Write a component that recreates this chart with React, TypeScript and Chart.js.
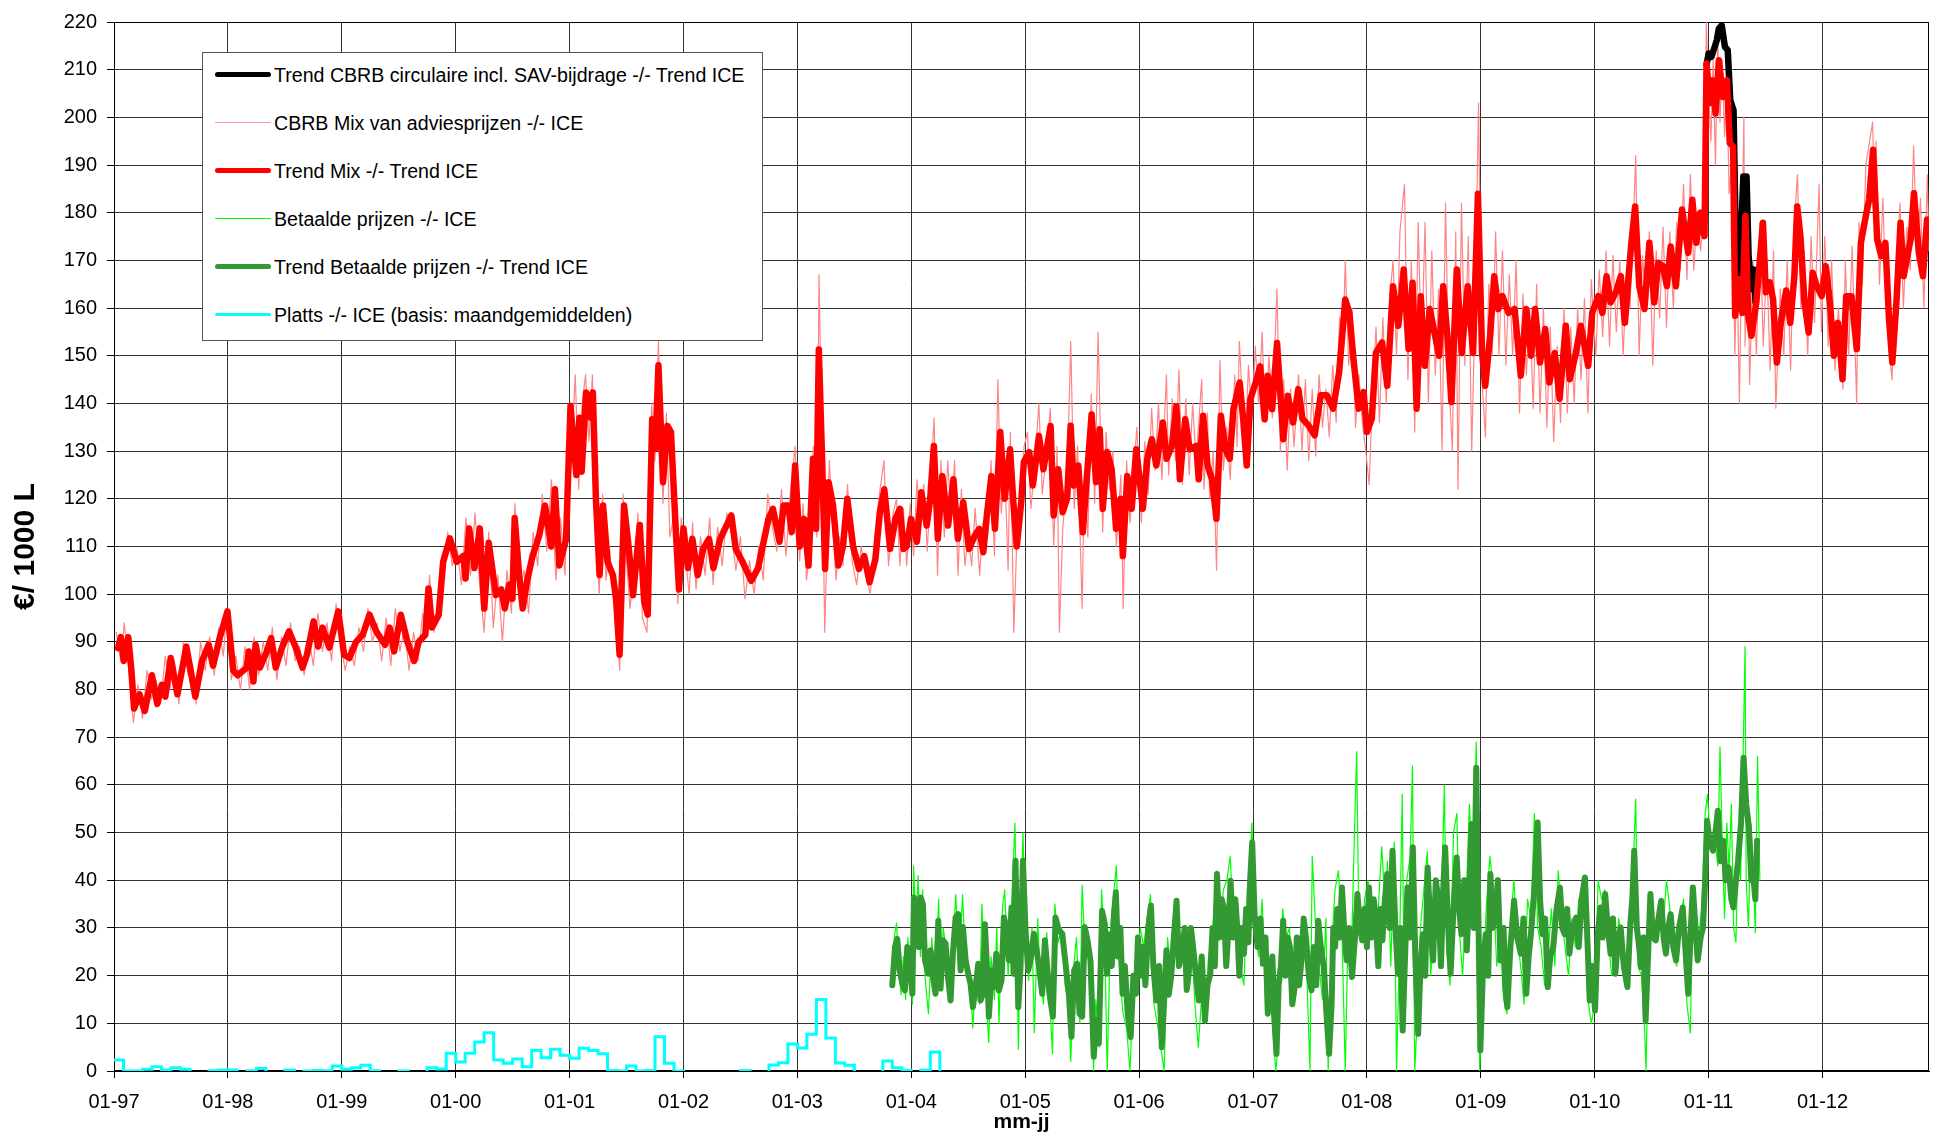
import React, { useEffect, useRef } from "react";
import { Chart, registerables } from "chart.js";

Chart.register(...registerables);

const FONT = "'Liberation Sans', Arial, Helvetica, sans-serif";

// ---------- axis data ----------
const yearTicks = [1997, 1998, 1999, 2000, 2001, 2002, 2003, 2004, 2005, 2006, 2007, 2008, 2009, 2010, 2011, 2012];
const yearTickLabels = ["01-97", "01-98", "01-99", "01-00", "01-01", "01-02", "01-03", "01-04", "01-05", "01-06", "01-07", "01-08", "01-09", "01-10", "01-11", "01-12"];
const xMin = 1997;
const xMax = 2012.935;
const yMin = 0;
const yMax = 220;
const yStep = 10;

// ---------- series (x = date as decimal year, y = EUR / 1000 L) ----------
const trendCbrbCirc: [number, number][] = [
  [2010.982, 211], [2011.0, 213.4], [2011.025, 212.7], [2011.054, 214.8], [2011.072, 216.2], [2011.09, 218.6],
  [2011.115, 219.3], [2011.143, 214.8], [2011.168, 214.1], [2011.19, 203.6], [2011.219, 201.5], [2011.24, 172.3],
  [2011.269, 166], [2011.305, 187.6], [2011.333, 187.6], [2011.351, 170.9], [2011.376, 164], [2011.394, 168.1], [2011.412, 161.2],
];

const trendMix: [number, number][] = [
  [1997.035, 88.7], [1997.06, 91], [1997.086, 86], [1997.125, 91], [1997.153, 84], [1997.176, 76], [1997.224, 79], [1997.27, 75.5],
  [1997.333, 83], [1997.38, 77], [1997.42, 81], [1997.45, 78.5], [1997.498, 86.6], [1997.557, 79], [1997.596, 84], [1997.635, 89],
  [1997.714, 78.5], [1997.773, 86], [1997.831, 89.4], [1997.87, 85], [1997.93, 91], [1997.996, 96.4], [1998.047, 84], [1998.086, 83],
  [1998.165, 84.6], [1998.184, 88], [1998.224, 81.7], [1998.243, 89.4], [1998.282, 84.6], [1998.341, 88], [1998.38, 90.8], [1998.42, 84.6],
  [1998.478, 89], [1998.537, 92.2], [1998.596, 88.8], [1998.655, 84.6], [1998.694, 87.3], [1998.753, 94.3], [1998.792, 89], [1998.831, 93],
  [1998.89, 88.8], [1998.969, 96.4], [1999.02, 87.3], [1999.067, 86.6], [1999.125, 90], [1999.184, 91.5], [1999.243, 95.7], [1999.302, 92.2],
  [1999.38, 89.4], [1999.42, 93], [1999.459, 88], [1999.518, 95.7], [1999.576, 90], [1999.635, 86], [1999.675, 90], [1999.733, 91.5],
  [1999.761, 101.2], [1999.792, 93], [1999.851, 95.7], [1999.89, 106.8], [1999.949, 111.7], [2000.008, 106.8], [2000.067, 108], [2000.086, 103.3],
  [2000.118, 113.8], [2000.165, 105.5], [2000.212, 113.8], [2000.251, 97], [2000.29, 110.8], [2000.353, 99.8], [2000.4, 101], [2000.431, 97],
  [2000.47, 102], [2000.498, 99], [2000.518, 116], [2000.557, 104], [2000.588, 97], [2000.627, 102.8], [2000.675, 108], [2000.733, 112.3],
  [2000.784, 118.6], [2000.839, 110], [2000.871, 122], [2000.91, 106], [2000.969, 111.6], [2001.008, 139.5], [2001.059, 125], [2001.086, 137],
  [2001.106, 125.7], [2001.145, 142.3], [2001.184, 137], [2001.204, 142.3], [2001.231, 120], [2001.263, 104], [2001.294, 118.6], [2001.333, 106.8],
  [2001.38, 104], [2001.408, 99], [2001.439, 87.3], [2001.478, 118.6], [2001.518, 110], [2001.557, 99.8], [2001.616, 114.5], [2001.655, 98.5],
  [2001.686, 95.7], [2001.725, 136.7], [2001.753, 130.5], [2001.78, 148], [2001.82, 123.5], [2001.859, 135.3], [2001.89, 134], [2001.929, 115],
  [2001.96, 101], [2002.0, 113.8], [2002.039, 105.5], [2002.078, 111.6], [2002.125, 104], [2002.173, 109.5], [2002.224, 111.6], [2002.263, 105.5],
  [2002.322, 111.6], [2002.42, 116.5], [2002.459, 109.5], [2002.518, 106.8], [2002.596, 102.8], [2002.655, 105.5], [2002.746, 115.8], [2002.785, 117.9],
  [2002.843, 111], [2002.88, 118.6], [2002.92, 118.6], [2002.95, 113], [2002.98, 127], [2003.02, 110], [2003.059, 115.8], [2003.098, 106],
  [2003.137, 128.4], [2003.164, 113.7], [2003.188, 151.3], [2003.215, 129.8], [2003.243, 105.3], [2003.274, 123.5], [2003.313, 118.6], [2003.36, 106],
  [2003.4, 110], [2003.438, 120], [2003.489, 110], [2003.54, 105.3], [2003.587, 108], [2003.634, 102.5], [2003.685, 107.4], [2003.724, 117.2],
  [2003.763, 122], [2003.814, 109.5], [2003.861, 115.8], [2003.9, 117.9], [2003.932, 109.5], [2003.959, 110], [2003.998, 115.8], [2004.049, 111],
  [2004.088, 121.4], [2004.135, 114.4], [2004.166, 120], [2004.198, 131.1], [2004.233, 111.6], [2004.272, 124.8], [2004.323, 114.4], [2004.37, 124.1],
  [2004.409, 111.6], [2004.456, 119.3], [2004.507, 109.5], [2004.558, 112.3], [2004.597, 113.7], [2004.632, 108.8], [2004.663, 116.5], [2004.703, 124.8],
  [2004.734, 113.7], [2004.781, 134], [2004.82, 120], [2004.867, 130.4], [2004.898, 118.6], [2004.926, 110], [2004.965, 119.3], [2004.988, 127.7],
  [2005.035, 129.8], [2005.067, 122.8], [2005.121, 133.2], [2005.16, 126.2], [2005.223, 135.3], [2005.25, 116.5], [2005.29, 126.2], [2005.329, 117.2],
  [2005.368, 120], [2005.399, 135.3], [2005.427, 122.8], [2005.466, 127], [2005.505, 113], [2005.536, 122.8], [2005.583, 137.7], [2005.622, 123.5],
  [2005.654, 134.6], [2005.681, 117.9], [2005.72, 129.8], [2005.759, 126.2], [2005.798, 113.7], [2005.838, 120], [2005.857, 108], [2005.896, 124.8],
  [2005.935, 117.9], [2005.975, 130.4], [2006.033, 117.9], [2006.072, 128.4], [2006.112, 132.5], [2006.151, 127], [2006.209, 136], [2006.241, 128.4],
  [2006.288, 131.1], [2006.327, 139.4], [2006.358, 124.1], [2006.405, 136.7], [2006.444, 130.4], [2006.503, 131.1], [2006.523, 124.1], [2006.562, 137.4],
  [2006.601, 127], [2006.64, 124.1], [2006.679, 115.8], [2006.718, 137.4], [2006.757, 130.4], [2006.796, 128.4], [2006.828, 138.8], [2006.883, 144.4],
  [2006.914, 136.7], [2006.945, 127], [2006.977, 140.9], [2007.023, 144.4], [2007.063, 147.8], [2007.102, 136.7], [2007.129, 145.8], [2007.168, 138.8],
  [2007.211, 152.7], [2007.266, 132.5], [2007.305, 141.6], [2007.352, 136], [2007.398, 143], [2007.434, 136.8], [2007.487, 135.4], [2007.541, 133.3],
  [2007.595, 141.7], [2007.649, 141.7], [2007.703, 138.9], [2007.756, 146.5], [2007.81, 161.8], [2007.846, 159], [2007.882, 149.3], [2007.928, 138.9],
  [2007.971, 142.4], [2008.0, 134], [2008.043, 136.8], [2008.079, 150.6], [2008.133, 152.8], [2008.179, 143.7], [2008.229, 164.6], [2008.276, 156.3],
  [2008.323, 168.1], [2008.366, 151.4], [2008.401, 165.3], [2008.437, 138.9], [2008.473, 162.5], [2008.509, 147.9], [2008.552, 159.8], [2008.599, 154.2],
  [2008.634, 150], [2008.67, 164.6], [2008.706, 154.2], [2008.742, 140.3], [2008.789, 168.1], [2008.832, 150.6], [2008.885, 164.6], [2008.932, 150.6],
  [2008.975, 184], [2009.011, 150.6], [2009.039, 143.7], [2009.082, 154.2], [2009.118, 166.7], [2009.154, 159.8], [2009.19, 162.5], [2009.244, 159],
  [2009.297, 159.8], [2009.351, 145.8], [2009.398, 159.8], [2009.441, 150], [2009.477, 159.8], [2009.52, 148.6], [2009.566, 155.6], [2009.602, 144.4],
  [2009.649, 150.6], [2009.692, 141], [2009.746, 156.3], [2009.781, 145.1], [2009.835, 150.6], [2009.878, 156.3], [2009.943, 147.9], [2009.978, 159],
  [2010.032, 162.5], [2010.068, 159], [2010.104, 166.7], [2010.14, 161.2], [2010.186, 163.3], [2010.229, 166.7], [2010.265, 156.9], [2010.319, 172.9],
  [2010.355, 181.3], [2010.391, 164.6], [2010.437, 159.8], [2010.48, 173.7], [2010.523, 161.2], [2010.559, 169.5], [2010.599, 168.8], [2010.634, 164.6],
  [2010.667, 172.9], [2010.713, 164.6], [2010.767, 180.7], [2010.821, 171.6], [2010.857, 182.7], [2010.892, 173.7], [2010.928, 180], [2010.964, 175.1],
  [2010.982, 211.3], [2011.011, 203], [2011.036, 207.8], [2011.061, 200.8], [2011.09, 212], [2011.125, 204.3], [2011.161, 207.8], [2011.186, 194.6],
  [2011.215, 193.9], [2011.233, 158.4], [2011.269, 166.1], [2011.297, 159], [2011.323, 179.3], [2011.348, 158.4], [2011.376, 154.2], [2011.419, 161.2],
  [2011.448, 169.5], [2011.477, 177.9], [2011.502, 163.3], [2011.538, 165.4], [2011.566, 161.8], [2011.599, 148.6], [2011.634, 156.9], [2011.681, 163.7],
  [2011.717, 156.9], [2011.753, 166.7], [2011.778, 181.3], [2011.806, 175.1], [2011.842, 161.2], [2011.878, 154.9], [2011.914, 167.4], [2011.95, 164.6],
  [2011.993, 162.5], [2012.029, 168.8], [2012.065, 161.2], [2012.1, 150], [2012.136, 156.9], [2012.176, 145.1], [2012.208, 162.5], [2012.254, 162.5],
  [2012.301, 151.4], [2012.337, 173.7], [2012.38, 179.3], [2012.409, 182.7], [2012.444, 193.2], [2012.48, 174.4], [2012.516, 170.9], [2012.552, 173.7],
  [2012.584, 157.7], [2012.613, 148.6], [2012.649, 161.2], [2012.685, 177.9], [2012.713, 166.7], [2012.756, 172.3], [2012.774, 174.4], [2012.803, 184.1],
  [2012.846, 171.6], [2012.882, 166.7], [2012.918, 178.6], [2012.935, 178],
];

const cbrbMix: [number, number][] = [
  [1997.02, 92], [1997.06, 86], [1997.09, 94], [1997.13, 84], [1997.17, 73], [1997.21, 81], [1997.25, 74], [1997.29, 84], [1997.33, 78], [1997.37, 82],
  [1997.41, 77], [1997.45, 87], [1997.49, 80], [1997.53, 86], [1997.57, 77], [1997.61, 90], [1997.65, 83], [1997.69, 85], [1997.72, 77], [1997.76, 90],
  [1997.8, 84], [1997.84, 91], [1997.88, 83], [1997.92, 93], [1997.96, 87], [1997.99, 97],
  [1998.03, 82], [1998.07, 87], [1998.11, 80], [1998.15, 89], [1998.19, 80], [1998.23, 91], [1998.27, 83], [1998.31, 90], [1998.35, 84], [1998.39, 93],
  [1998.43, 82], [1998.47, 91], [1998.51, 85], [1998.55, 94], [1998.59, 86], [1998.63, 89], [1998.67, 83], [1998.71, 91], [1998.75, 85], [1998.79, 96],
  [1998.83, 88], [1998.87, 94], [1998.91, 86], [1998.95, 98], [1998.99, 90],
  [1999.03, 84], [1999.07, 89], [1999.11, 85], [1999.15, 93], [1999.19, 88], [1999.23, 97], [1999.27, 90], [1999.31, 94], [1999.35, 86], [1999.39, 95],
  [1999.43, 85], [1999.47, 97], [1999.51, 88], [1999.55, 93], [1999.59, 84], [1999.63, 92], [1999.67, 86], [1999.71, 96], [1999.75, 92], [1999.77, 104],
  [1999.81, 92], [1999.85, 100], [1999.89, 104], [1999.93, 113], [1999.97, 106],
  [2000.01, 110], [2000.05, 102], [2000.09, 116], [2000.13, 104], [2000.17, 117], [2000.21, 102], [2000.25, 92], [2000.29, 113], [2000.33, 93], [2000.37, 104],
  [2000.41, 90], [2000.45, 105], [2000.49, 96], [2000.52, 119], [2000.56, 100], [2000.6, 105], [2000.64, 96], [2000.68, 113], [2000.72, 106], [2000.76, 121],
  [2000.8, 109], [2000.84, 124], [2000.88, 103], [2000.92, 116], [2000.96, 104], [2000.99, 127],
  [2001.02, 132], [2001.05, 146], [2001.08, 122], [2001.11, 140], [2001.14, 146], [2001.17, 132], [2001.2, 146], [2001.23, 115], [2001.26, 100], [2001.29, 121],
  [2001.32, 103], [2001.35, 110], [2001.38, 100], [2001.41, 95], [2001.44, 84], [2001.47, 121], [2001.5, 107], [2001.53, 97], [2001.56, 103], [2001.6, 117],
  [2001.64, 95], [2001.68, 92], [2001.72, 140], [2001.75, 128], [2001.78, 153], [2001.82, 119], [2001.85, 138], [2001.88, 112], [2001.92, 117], [2001.95, 98],
  [2001.98, 116],
  [2002.02, 107], [2002.05, 100], [2002.08, 115], [2002.11, 101], [2002.15, 112], [2002.19, 104], [2002.23, 116], [2002.26, 102], [2002.3, 114], [2002.34, 106],
  [2002.38, 117], [2002.42, 113], [2002.46, 105], [2002.5, 112], [2002.54, 99], [2002.58, 107], [2002.62, 100], [2002.66, 110], [2002.7, 103], [2002.74, 121],
  [2002.78, 114], [2002.82, 109], [2002.86, 122], [2002.9, 108], [2002.94, 122], [2002.98, 131],
  [2003.02, 107], [2003.05, 119], [2003.08, 103], [2003.11, 110], [2003.14, 131], [2003.17, 112], [2003.19, 167], [2003.22, 125], [2003.24, 92], [2003.28, 128],
  [2003.31, 114], [2003.34, 103], [2003.37, 112], [2003.4, 106], [2003.44, 123], [2003.48, 107], [2003.52, 102], [2003.56, 110], [2003.6, 104], [2003.64, 100],
  [2003.68, 112], [2003.72, 121], [2003.76, 128], [2003.8, 106], [2003.84, 117], [2003.87, 120], [2003.9, 106], [2003.93, 118], [2003.96, 106], [2003.99, 119],
  [2004.02, 108], [2004.05, 124], [2004.08, 113], [2004.11, 123], [2004.14, 109], [2004.17, 123], [2004.2, 137], [2004.23, 104], [2004.26, 128], [2004.29, 112],
  [2004.32, 128], [2004.35, 116], [2004.38, 128], [2004.41, 104], [2004.44, 122], [2004.47, 106], [2004.5, 112], [2004.53, 106], [2004.56, 118], [2004.6, 104],
  [2004.63, 115], [2004.67, 112], [2004.7, 128], [2004.73, 108], [2004.76, 145], [2004.79, 117], [2004.82, 127], [2004.85, 105], [2004.87, 134], [2004.9, 92],
  [2004.93, 114], [2004.96, 121], [2004.99, 131],
  [2005.02, 134], [2005.05, 118], [2005.08, 126], [2005.12, 140], [2005.15, 121], [2005.19, 130], [2005.22, 139], [2005.25, 110], [2005.28, 131], [2005.3, 92],
  [2005.33, 114], [2005.37, 125], [2005.4, 153], [2005.43, 118], [2005.46, 131], [2005.5, 97], [2005.52, 125], [2005.55, 112], [2005.58, 142], [2005.61, 119],
  [2005.64, 155], [2005.68, 113], [2005.71, 134], [2005.74, 122], [2005.77, 130], [2005.8, 110], [2005.84, 125], [2005.86, 97], [2005.89, 128], [2005.92, 115],
  [2005.95, 125], [2005.98, 135],
  [2006.02, 115], [2006.05, 132], [2006.08, 121], [2006.11, 139], [2006.14, 126], [2006.17, 140], [2006.2, 124], [2006.24, 146], [2006.26, 125], [2006.29, 141],
  [2006.32, 128], [2006.35, 147], [2006.38, 123], [2006.41, 141], [2006.44, 125], [2006.47, 140], [2006.5, 128], [2006.55, 145], [2006.57, 122], [2006.6, 138],
  [2006.62, 120], [2006.65, 130], [2006.68, 105], [2006.71, 149], [2006.74, 126], [2006.77, 135], [2006.8, 124], [2006.84, 146], [2006.86, 131], [2006.88, 153],
  [2006.93, 130], [2006.96, 148], [2006.99, 137],
  [2007.02, 152], [2007.05, 140], [2007.08, 155], [2007.11, 136], [2007.14, 150], [2007.17, 137], [2007.21, 164], [2007.24, 130], [2007.27, 145], [2007.3, 126],
  [2007.33, 143], [2007.36, 131], [2007.4, 146], [2007.43, 130], [2007.46, 145], [2007.49, 128], [2007.52, 143], [2007.55, 129], [2007.58, 146], [2007.61, 135],
  [2007.64, 143], [2007.67, 133], [2007.7, 148], [2007.73, 136], [2007.76, 158], [2007.79, 152], [2007.81, 170], [2007.84, 148], [2007.87, 160], [2007.9, 135],
  [2007.93, 146], [2007.96, 136], [2007.99, 130],
  [2008.02, 123], [2008.05, 142], [2008.08, 156], [2008.11, 136], [2008.14, 158], [2008.17, 140], [2008.2, 162], [2008.23, 170], [2008.26, 150], [2008.29, 176],
  [2008.33, 186], [2008.36, 145], [2008.39, 170], [2008.42, 134], [2008.45, 178], [2008.48, 150], [2008.51, 178], [2008.54, 140], [2008.57, 172], [2008.6, 146],
  [2008.63, 164], [2008.66, 130], [2008.69, 182], [2008.72, 145], [2008.75, 130], [2008.78, 176], [2008.8, 122], [2008.83, 182], [2008.86, 148], [2008.89, 175],
  [2008.92, 130], [2008.95, 160], [2008.98, 203],
  [2009.01, 145], [2009.04, 133], [2009.07, 165], [2009.1, 150], [2009.13, 176], [2009.16, 150], [2009.19, 172], [2009.22, 148], [2009.25, 167], [2009.28, 150],
  [2009.31, 170], [2009.34, 138], [2009.37, 163], [2009.4, 146], [2009.43, 160], [2009.46, 139], [2009.49, 165], [2009.52, 138], [2009.55, 160], [2009.58, 135],
  [2009.61, 156], [2009.64, 132], [2009.67, 152], [2009.7, 136], [2009.73, 160], [2009.76, 138], [2009.79, 156], [2009.82, 140], [2009.85, 160], [2009.88, 145],
  [2009.91, 162], [2009.94, 138], [2009.97, 166],
  [2010.01, 150], [2010.04, 168], [2010.07, 154], [2010.1, 172], [2010.13, 152], [2010.16, 171], [2010.19, 155], [2010.22, 170], [2010.25, 150], [2010.28, 168],
  [2010.31, 160], [2010.34, 178], [2010.36, 192], [2010.39, 150], [2010.42, 171], [2010.45, 160], [2010.48, 176], [2010.51, 148], [2010.54, 172], [2010.57, 158],
  [2010.6, 177], [2010.63, 156], [2010.66, 176], [2010.69, 160], [2010.72, 178], [2010.75, 168], [2010.78, 186], [2010.81, 166], [2010.84, 188], [2010.87, 168],
  [2010.9, 180], [2010.93, 172], [2010.96, 182], [2010.98, 220],
  [2011.0, 205], [2011.02, 195], [2011.04, 212], [2011.06, 190], [2011.08, 216], [2011.1, 199], [2011.12, 212], [2011.14, 196], [2011.16, 209], [2011.18, 184],
  [2011.21, 193], [2011.23, 150], [2011.25, 170], [2011.27, 140], [2011.29, 170], [2011.31, 200], [2011.32, 152], [2011.34, 181], [2011.36, 144], [2011.39, 170],
  [2011.42, 150], [2011.45, 178], [2011.48, 152], [2011.51, 170], [2011.54, 147], [2011.57, 172], [2011.59, 139], [2011.63, 164], [2011.66, 150], [2011.69, 170],
  [2011.72, 147], [2011.75, 177], [2011.78, 188], [2011.81, 160], [2011.84, 172], [2011.87, 150], [2011.9, 175], [2011.93, 157], [2011.97, 186], [2011.99, 155],
  [2012.02, 175], [2012.05, 152], [2012.08, 170], [2012.11, 147], [2012.14, 160], [2012.18, 143], [2012.2, 170], [2012.23, 150], [2012.26, 173], [2012.3, 140],
  [2012.32, 178], [2012.35, 165], [2012.38, 190], [2012.44, 199], [2012.46, 182], [2012.47, 195], [2012.5, 165], [2012.53, 183], [2012.56, 160], [2012.59, 150],
  [2012.61, 145], [2012.65, 170], [2012.68, 182], [2012.71, 160], [2012.74, 177], [2012.77, 168], [2012.8, 194], [2012.83, 170], [2012.86, 183], [2012.89, 160],
  [2012.92, 188], [2012.935, 172],
];

const betaald: [number, number][] = [
  [2003.83, 18], [2003.85, 28], [2003.87, 31], [2003.89, 22], [2003.91, 16], [2003.93, 24], [2003.95, 15], [2003.97, 28], [2003.99, 20],
  [2004.01, 14], [2004.02, 43], [2004.04, 30], [2004.06, 41], [2004.08, 24], [2004.1, 38], [2004.12, 20], [2004.15, 12], [2004.18, 28], [2004.21, 16],
  [2004.24, 36], [2004.26, 17], [2004.28, 30], [2004.31, 25], [2004.34, 15], [2004.37, 28], [2004.39, 37], [2004.42, 22], [2004.45, 37], [2004.48, 20],
  [2004.52, 18], [2004.54, 9], [2004.57, 22], [2004.6, 14], [2004.62, 35], [2004.65, 18], [2004.68, 6], [2004.7, 24], [2004.73, 15], [2004.75, 30],
  [2004.77, 10], [2004.8, 34], [2004.82, 38], [2004.85, 20], [2004.88, 35], [2004.91, 52], [2004.94, 4.5], [2004.96, 30], [2004.98, 50],
  [2005.01, 25], [2005.03, 19], [2005.06, 30], [2005.08, 8], [2005.11, 32], [2005.13, 20], [2005.16, 14], [2005.19, 29], [2005.21, 17], [2005.24, 3.7],
  [2005.26, 35], [2005.29, 27], [2005.32, 30], [2005.35, 18], [2005.38, 14], [2005.4, 2], [2005.43, 23], [2005.45, 28], [2005.48, 10], [2005.5, 39],
  [2005.52, 28], [2005.55, 25], [2005.58, 20], [2005.6, 0], [2005.62, 15], [2005.65, 5], [2005.67, 38], [2005.7, 25], [2005.72, 0], [2005.75, 30],
  [2005.78, 38], [2005.8, 43], [2005.83, 20], [2005.86, 12], [2005.89, 9], [2005.92, 0], [2005.95, 18], [2005.98, 22],
  [2006.01, 30], [2006.04, 26], [2006.07, 32], [2006.1, 37], [2006.13, 14], [2006.16, 10], [2006.19, 5], [2006.22, 0], [2006.25, 28], [2006.28, 20],
  [2006.31, 35], [2006.34, 24], [2006.37, 28], [2006.4, 20], [2006.43, 26], [2006.46, 28], [2006.49, 14], [2006.52, 5], [2006.55, 16], [2006.58, 10],
  [2006.61, 24], [2006.64, 28], [2006.66, 35], [2006.68, 42], [2006.71, 30], [2006.74, 38], [2006.77, 40], [2006.8, 45], [2006.83, 30], [2006.86, 34],
  [2006.89, 22], [2006.92, 18], [2006.95, 38], [2006.97, 42], [2006.99, 52],
  [2007.02, 28], [2007.05, 24], [2007.08, 36], [2007.11, 16], [2007.14, 20], [2007.17, 10], [2007.2, 0], [2007.23, 8], [2007.26, 34], [2007.29, 28],
  [2007.32, 30], [2007.35, 14], [2007.38, 26], [2007.41, 18], [2007.44, 30], [2007.47, 22], [2007.5, 0.1], [2007.52, 45], [2007.55, 30], [2007.58, 22],
  [2007.61, 15], [2007.64, 32], [2007.66, 0], [2007.69, 26], [2007.72, 38], [2007.75, 42], [2007.78, 30], [2007.81, 0], [2007.83, 24], [2007.86, 20],
  [2007.88, 40], [2007.91, 67], [2007.93, 30], [2007.96, 28], [2007.98, 36],
  [2008.01, 40], [2008.04, 36], [2008.07, 30], [2008.1, 34], [2008.13, 47], [2008.16, 35], [2008.18, 44], [2008.21, 22], [2008.24, 48], [2008.26, 0],
  [2008.29, 30], [2008.31, 58], [2008.33, 8], [2008.35, 40], [2008.38, 45], [2008.4, 64], [2008.42, 0], [2008.44, 10], [2008.47, 30], [2008.5, 38],
  [2008.53, 46], [2008.56, 20], [2008.59, 30], [2008.62, 40], [2008.65, 30], [2008.68, 60], [2008.7, 25], [2008.73, 18], [2008.76, 50], [2008.79, 54],
  [2008.81, 30], [2008.84, 20], [2008.87, 35], [2008.9, 56], [2008.93, 40], [2008.96, 69], [2008.99, 0],
  [2009.02, 20], [2009.05, 35], [2009.08, 45], [2009.11, 38], [2009.14, 22], [2009.17, 28], [2009.2, 15], [2009.23, 12], [2009.26, 30], [2009.29, 40],
  [2009.32, 28], [2009.35, 22], [2009.38, 14], [2009.41, 36], [2009.44, 32], [2009.47, 54], [2009.5, 30], [2009.53, 26], [2009.56, 18], [2009.59, 24],
  [2009.62, 34], [2009.65, 22], [2009.68, 42], [2009.71, 32], [2009.74, 26], [2009.77, 20], [2009.8, 32], [2009.83, 26], [2009.86, 36], [2009.89, 30],
  [2009.91, 41], [2009.94, 15], [2009.97, 10],
  [2010.0, 14], [2010.03, 40], [2010.06, 36], [2010.09, 38], [2010.12, 27], [2010.15, 20], [2010.18, 22], [2010.21, 32], [2010.24, 28], [2010.27, 20],
  [2010.3, 18], [2010.33, 38], [2010.36, 57], [2010.38, 22], [2010.41, 20], [2010.44, 8], [2010.45, 0], [2010.48, 36], [2010.51, 30], [2010.54, 28],
  [2010.57, 36], [2010.6, 30], [2010.63, 40], [2010.66, 34], [2010.69, 25], [2010.72, 22], [2010.75, 32], [2010.78, 36], [2010.81, 14], [2010.84, 8],
  [2010.86, 38], [2010.89, 28], [2010.92, 30], [2010.94, 34], [2010.97, 54], [2010.99, 58],
  [2011.02, 46], [2011.05, 50], [2011.08, 43], [2011.1, 68], [2011.12, 48], [2011.14, 32], [2011.16, 52], [2011.18, 42], [2011.2, 56], [2011.22, 30],
  [2011.24, 27], [2011.26, 48], [2011.28, 40], [2011.3, 62], [2011.32, 89], [2011.33, 40], [2011.35, 30], [2011.37, 52], [2011.39, 44], [2011.41, 29],
  [2011.43, 66], [2011.45, 40],
];

const trendBetaald: [number, number][] = [
  [2003.833, 18], [2003.857, 26], [2003.877, 27.7], [2003.898, 21.1], [2003.921, 18.3], [2003.944, 16.9], [2003.965, 26], [2003.985, 24.6],
  [2004.009, 16.2], [2004.023, 36.4], [2004.044, 35.7], [2004.067, 26], [2004.082, 36.4], [2004.102, 35], [2004.12, 23.2], [2004.149, 20.4],
  [2004.17, 25.3], [2004.19, 19.7], [2004.213, 16.2], [2004.237, 31.5], [2004.257, 17.3], [2004.278, 27.4], [2004.301, 26.7], [2004.325, 19],
  [2004.345, 14.8], [2004.365, 24.6], [2004.389, 32.2], [2004.412, 32.9], [2004.433, 21.1], [2004.453, 30.2], [2004.477, 23.2], [2004.5, 20.4],
  [2004.52, 18.3], [2004.541, 13.4], [2004.564, 17.6], [2004.588, 22.5], [2004.608, 14.8], [2004.629, 16.2], [2004.646, 30.8], [2004.667, 20.4],
  [2004.681, 11.4], [2004.705, 21.1], [2004.725, 17.6], [2004.746, 24.6], [2004.769, 16.9], [2004.792, 19], [2004.813, 32.2], [2004.833, 30.2],
  [2004.857, 23.2], [2004.88, 34.3], [2004.898, 20.4], [2004.915, 44.1], [2004.939, 13.4], [2004.959, 21.8], [2004.98, 44.1], [2005.003, 29.5],
  [2005.026, 21.1], [2005.047, 23.2], [2005.076, 28.8], [2005.105, 24.6], [2005.126, 21.1], [2005.149, 16.2], [2005.173, 27.4], [2005.193, 21.8],
  [2005.213, 16.2], [2005.243, 11.4], [2005.266, 32.2], [2005.295, 29.5], [2005.325, 28.8], [2005.348, 23.9], [2005.383, 16.2], [2005.406, 7.2],
  [2005.43, 21.1], [2005.456, 22.5], [2005.477, 12], [2005.5, 11.4], [2005.523, 30.2], [2005.547, 27.4], [2005.573, 23.2], [2005.602, 3],
  [2005.623, 10.7], [2005.646, 5.8], [2005.675, 33.6], [2005.699, 30.8], [2005.719, 20.4], [2005.736, 28.7], [2005.76, 22], [2005.78, 33],
  [2005.796, 37.5], [2005.815, 24], [2005.835, 30], [2005.855, 16.2], [2005.875, 22], [2005.9, 12], [2005.926, 7.1], [2005.95, 20],
  [2005.973, 16.2], [2005.99, 28], [2006.01, 20], [2006.033, 26], [2006.055, 18], [2006.08, 30], [2006.104, 34.7], [2006.125, 22],
  [2006.151, 14.8], [2006.175, 22], [2006.199, 5], [2006.22, 15], [2006.24, 25.3], [2006.26, 16], [2006.281, 19.7], [2006.305, 28],
  [2006.329, 35.7], [2006.35, 22], [2006.376, 24.6], [2006.4, 30], [2006.418, 17], [2006.436, 20.4], [2006.455, 30], [2006.477, 25.3],
  [2006.5, 20], [2006.524, 14.8], [2006.55, 24], [2006.578, 10.6], [2006.6, 18], [2006.625, 20.4], [2006.645, 30], [2006.665, 22],
  [2006.684, 41.3], [2006.705, 28], [2006.725, 36], [2006.744, 34.3], [2006.765, 22], [2006.785, 30], [2006.803, 39.9], [2006.825, 28],
  [2006.845, 36], [2006.862, 30.1], [2006.88, 20], [2006.9, 30], [2006.921, 24.6], [2006.94, 34], [2006.96, 27], [2006.975, 40],
  [2006.993, 47.9], [2007.015, 32], [2007.04, 26], [2007.065, 32], [2007.087, 22.5], [2007.11, 28], [2007.13, 12], [2007.147, 16.2],
  [2007.17, 24], [2007.19, 10], [2007.206, 3.6], [2007.225, 18], [2007.245, 22], [2007.265, 31.5], [2007.285, 20], [2007.305, 28],
  [2007.324, 26], [2007.345, 14], [2007.366, 17.6], [2007.385, 28], [2007.405, 18], [2007.425, 23.2], [2007.445, 32], [2007.467, 27.4],
  [2007.49, 20], [2007.514, 16.9], [2007.535, 26], [2007.555, 18], [2007.573, 31.5], [2007.595, 26], [2007.621, 21.8], [2007.645, 12],
  [2007.668, 3.6], [2007.69, 14], [2007.705, 30], [2007.721, 26], [2007.74, 34], [2007.76, 28], [2007.781, 38.5], [2007.8, 30],
  [2007.822, 23.2], [2007.845, 30], [2007.87, 19.7], [2007.895, 28], [2007.917, 37.1], [2007.94, 30], [2007.959, 27.4], [2007.98, 34],
  [2008.0, 26], [2008.018, 38.5], [2008.04, 28], [2008.06, 36], [2008.077, 32.2], [2008.1, 22], [2008.12, 34], [2008.136, 27.4],
  [2008.158, 36], [2008.178, 41.3], [2008.2, 30], [2008.225, 46.2], [2008.25, 30], [2008.273, 20.4], [2008.295, 30], [2008.314, 8.5],
  [2008.335, 24], [2008.356, 38.5], [2008.38, 28], [2008.403, 46.9], [2008.425, 24], [2008.45, 7.8], [2008.47, 22], [2008.492, 28.7],
  [2008.512, 20], [2008.533, 42.7], [2008.558, 30], [2008.581, 23.2], [2008.605, 40], [2008.628, 35.7], [2008.65, 22], [2008.67, 38],
  [2008.687, 46.9], [2008.71, 32], [2008.735, 20.4], [2008.76, 34], [2008.788, 44.8], [2008.81, 34], [2008.83, 28.7], [2008.855, 40],
  [2008.877, 25.3], [2008.9, 38], [2008.919, 51.8], [2008.94, 30], [2008.96, 63.6], [2008.978, 34], [2008.996, 4.3], [2009.02, 22],
  [2009.043, 28.7], [2009.065, 20], [2009.084, 41.3], [2009.105, 30], [2009.126, 32.9], [2009.15, 40], [2009.173, 23.2], [2009.2, 30],
  [2009.215, 18], [2009.233, 13.4], [2009.26, 26], [2009.292, 35.7], [2009.32, 28], [2009.351, 24.6], [2009.375, 32], [2009.399, 16.2],
  [2009.42, 24], [2009.44, 28.7], [2009.47, 38], [2009.499, 52.1], [2009.52, 36], [2009.541, 28.7], [2009.565, 32], [2009.588, 17.6],
  [2009.61, 24], [2009.636, 26], [2009.665, 34], [2009.695, 38.5], [2009.715, 30], [2009.736, 28.7], [2009.758, 34], [2009.778, 24.6],
  [2009.805, 30], [2009.837, 32.2], [2009.86, 26], [2009.885, 36], [2009.914, 40.6], [2009.935, 28], [2009.956, 14.8], [2009.98, 22],
  [2010.003, 12.7], [2010.025, 28], [2010.05, 34.3], [2010.07, 28], [2010.092, 37.1], [2010.115, 30], [2010.139, 24.6], [2010.16, 32],
  [2010.181, 20.4], [2010.205, 28], [2010.228, 30.1], [2010.255, 22], [2010.287, 17.6], [2010.31, 30], [2010.33, 36], [2010.347, 46.2],
  [2010.37, 30], [2010.39, 26], [2010.406, 21.8], [2010.428, 28], [2010.447, 10.6], [2010.468, 24], [2010.489, 37.1], [2010.512, 28],
  [2010.536, 27.4], [2010.56, 32], [2010.584, 35.7], [2010.605, 28], [2010.625, 24.6], [2010.645, 30], [2010.667, 32.9], [2010.69, 26],
  [2010.714, 23.2], [2010.74, 30], [2010.773, 34.3], [2010.8, 24], [2010.821, 16.2], [2010.84, 28], [2010.862, 38.5], [2010.885, 30],
  [2010.904, 23.2], [2010.93, 28], [2010.951, 30.1], [2010.97, 40], [2010.987, 52.5], [2011.01, 48], [2011.04, 46.2], [2011.06, 50],
  [2011.081, 54.6], [2011.105, 44], [2011.129, 48.3], [2011.15, 40], [2011.176, 42.7], [2011.2, 36], [2011.218, 34.3], [2011.24, 40],
  [2011.259, 44.1], [2011.285, 52], [2011.307, 65.7], [2011.33, 56], [2011.354, 51.1], [2011.375, 40], [2011.396, 39.9], [2011.41, 36],
  [2011.425, 48.3],
];

// Platts -/- ICE, monthly averages starting Jan 1997 (values below the axis are hidden: < 0)
const plattsStartYear = 1997;
const plattsMonthly = [
  2.3, 0, 0, 0.35, 0.9, 0.2, 0.7, 0.35, -1, -1, 0.05, 0.2,
  0.2, -1, 0.05, 0.55, -1, -1, 0.2, -1, 0, 0.1, 0.05, 1.05,
  0.35, 0.7, 1.2, 0.05, -1, -1, 0, -1, -1, 0.7, 0.4, 3.7,
  1.9, 3.7, 6.1, 8.0, 2.3, 1.6, 2.5, 0.9, 4.3, 2.8, 4.55, 3.3,
  2.65, 4.75, 4.3, 3.6, 0.1, 0, 1.05, 0, 0.1, 7.2, 1.6, 0,
  -1, -1, -1, -1, -1, -1, 0.1, -1, -1, 1.26, 1.75, 5.66,
  4.8, 7.7, 15.0, 6.9, 1.7, 1.2, -1, -1, -1, 2.1, 0.7, 0.1,
  -1, 0.2, 4.0, -1,
];

// ---------- legend ----------
const legendItems = [
  { label: "Trend CBRB circulaire incl. SAV-bijdrage -/- Trend ICE", color: "#000000", thickness: 5 },
  { label: "CBRB Mix van adviesprijzen -/- ICE", color: "#FF9999", thickness: 1.5 },
  { label: "Trend Mix -/- Trend ICE", color: "#FF0000", thickness: 5 },
  { label: "Betaalde prijzen -/- ICE", color: "#00FF00", thickness: 1.5 },
  { label: "Trend Betaalde prijzen -/- Trend ICE", color: "#339933", thickness: 5 },
  { label: "Platts -/- ICE (basis: maandgemiddelden)", color: "#00FFFF", thickness: 3 },
];

const toXY = (arr: [number, number][]) => arr.map(([x, y]) => ({ x, y }));

const frame = {
  id: "frame",
  beforeDatasetsDraw(chart: any) {
    const { ctx, chartArea: a } = chart;
    ctx.save();
    ctx.strokeStyle = "#000";
    ctx.lineWidth = 1;
    ctx.strokeRect(Math.round(a.left) + 0.5, Math.round(a.top) + 0.5, Math.round(a.right - a.left) - 1, Math.round(a.bottom - a.top) - 1);
    ctx.restore();
  },
};

export default function App() {
  const ref = useRef<HTMLCanvasElement | null>(null);

  useEffect(() => {
    if (!ref.current) return;
    const platts = [
      ...plattsMonthly.map((v, i) => ({ x: plattsStartYear + i / 12, y: v })),
      { x: plattsStartYear + plattsMonthly.length / 12, y: -1 },
    ];
    const noClip = { left: 0, top: 0, right: 0, bottom: 0 };
    const lineBase = {
      pointRadius: 0,
      pointHoverRadius: 0,
      tension: 0,
      fill: false,
      borderJoinStyle: "round" as const,
      borderCapStyle: "round" as const,
      clip: noClip,
      spanGaps: true,
    };
    const chart = new Chart(ref.current, {
      type: "line",
      data: {
        datasets: [
          { ...lineBase, label: legendItems[0].label, data: toXY(trendCbrbCirc), borderColor: "#000000", borderWidth: 6.5, order: 2 },
          { ...lineBase, label: legendItems[1].label, data: toXY(cbrbMix), borderColor: "#FF8585", borderWidth: 1.2, order: 6 },
          { ...lineBase, label: legendItems[2].label, data: toXY(trendMix), borderColor: "#FF0000", borderWidth: 6.5, order: 1 },
          { ...lineBase, label: legendItems[3].label, data: toXY(betaald), borderColor: "#00FF00", borderWidth: 1.2, order: 5 },
          { ...lineBase, label: legendItems[4].label, data: toXY(trendBetaald), borderColor: "#339933", borderWidth: 6, order: 3 },
          { ...lineBase, label: legendItems[5].label, data: platts, borderColor: "#00FFFF", borderWidth: 3, stepped: "before", borderJoinStyle: "miter", borderCapStyle: "butt", order: 4 },
        ],
      },
      options: {
        animation: false,
        responsive: false,
        devicePixelRatio: 1,
        events: [],
        layout: { padding: { left: 0, right: 12, top: 18, bottom: 0 } },
        plugins: { legend: { display: false }, tooltip: { enabled: false }, title: { display: false } },
        scales: {
          x: {
            type: "linear",
            min: xMin,
            max: xMax,
            afterBuildTicks: (s: any) => {
              s.ticks = yearTicks.map((v) => ({ value: v }));
            },
            afterFit: (s: any) => {
              s.height = 67;
            },
            ticks: {
              autoSkip: false,
              maxRotation: 0,
              padding: 12,
              color: "#000",
              font: { family: FONT, size: 20 },
              callback: (v: any) => {
                const i = yearTicks.indexOf(Number(v));
                return i >= 0 ? yearTickLabels[i] : "";
              },
            },
            grid: { color: "#333", lineWidth: 1, drawTicks: true, tickLength: 7, tickColor: "#000" },
            border: { display: true, color: "#000", width: 1 },
            title: { display: true, text: "mm-jj", color: "#000", font: { family: FONT, size: 21, weight: "bold" }, padding: { top: 0, bottom: 3 } },
          },
          y: {
            type: "linear",
            min: yMin,
            max: yMax,
            afterFit: (s: any) => {
              s.width = 114;
            },
            ticks: { stepSize: yStep, padding: 10, color: "#000", font: { family: FONT, size: 20 } },
            grid: { color: "#333", lineWidth: 1, drawTicks: true, tickLength: 7, tickColor: "#000" },
            border: { display: true, color: "#000", width: 1 },
            title: { display: true, text: "€/ 1000 L", color: "#000", font: { family: FONT, size: 30, weight: "bold" }, padding: { top: 8, bottom: 0 } },
          },
        },
      },
      plugins: [frame],
    } as any);
    return () => chart.destroy();
  }, []);

  const textTop0 = 66;
  const rowStep = 48;

  return (
    <div style={{ position: "absolute", left: 0, top: 0, width: 1941, height: 1138, background: "#fff", overflow: "hidden" }}>
      <canvas ref={ref} width={1941} height={1138} style={{ display: "block", width: 1941, height: 1138 }} />
      <div
        style={{
          position: "absolute",
          left: 202,
          top: 52,
          width: 561,
          height: 289,
          boxSizing: "border-box",
          border: "1.5px solid #555",
          background: "#fff",
        }}
      />
      {legendItems.map((it, i) => (
        <React.Fragment key={it.label}>
          <div
            style={{
              position: "absolute",
              left: 215,
              width: 56,
              top: textTop0 + 16.6 + rowStep * i - 8.3 - it.thickness / 2,
              height: it.thickness,
              background: it.color,
              borderRadius: it.thickness / 2,
            }}
          />
          <div
            style={{
              position: "absolute",
              left: 274,
              top: textTop0 + rowStep * i,
              fontFamily: FONT,
              fontSize: 19.6,
              lineHeight: "19.6px",
              color: "#000",
              whiteSpace: "nowrap",
            }}
          >
            {it.label}
          </div>
        </React.Fragment>
      ))}
    </div>
  );
}
